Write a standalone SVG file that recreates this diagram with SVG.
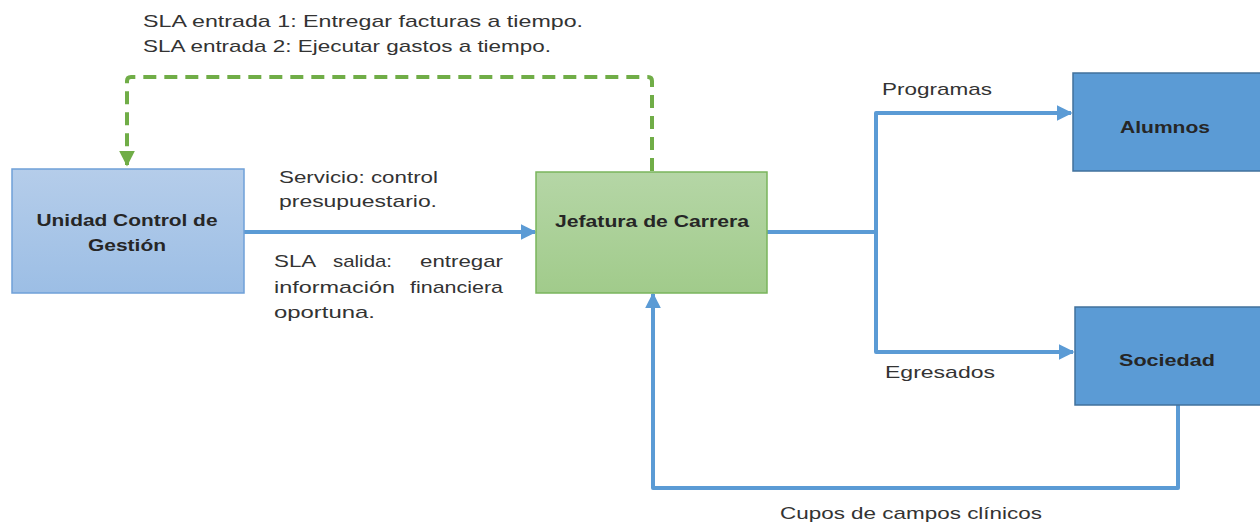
<svg xmlns="http://www.w3.org/2000/svg" width="1260" height="527" viewBox="0 0 1260 527">
<style>
.t{font-family:"Liberation Sans",Arial,sans-serif;font-size:17px;fill:#333333}
.n{font-family:"Liberation Sans",Arial,sans-serif;font-size:17px;font-weight:bold;fill:#262626;text-anchor:middle}
.b{fill:none;stroke:#5b9bd5;stroke-width:4;stroke-linejoin:round}
.g{fill:none;stroke:#70ad47;stroke-width:4;stroke-dasharray:13 8;stroke-linejoin:round}
</style>
<defs>
<linearGradient id="gb" x1="0" y1="0" x2="0" y2="1"><stop offset="0" stop-color="#b5cdea"/><stop offset="1" stop-color="#9cbee5"/></linearGradient>
<linearGradient id="gg" x1="0" y1="0" x2="0" y2="1"><stop offset="0" stop-color="#b5d6a6"/><stop offset="1" stop-color="#a1cb8b"/></linearGradient>
<marker id="ab" markerWidth="4" markerHeight="4" refX="3.6" refY="2" orient="auto" markerUnits="strokeWidth"><path d="M0,0 L4,2 L0,4 z" fill="#5b9bd5"/></marker>
<marker id="ag" markerWidth="4" markerHeight="4" refX="3.6" refY="2" orient="auto" markerUnits="strokeWidth"><path d="M0,0 L4,2 L0,4 z" fill="#70ad47"/></marker>
</defs>
<g id="connectors">
<path class="g" d="M652,171 V81 Q652,77 648,77 H131 Q127,77 127,81 V165" marker-end="url(#ag)"/>
<line class="b" x1="244" y1="232" x2="535" y2="232" marker-end="url(#ab)"/>
<path class="b" d="M767,232 H876"/>
<path class="b" d="M1071,113 H876 V352 H1073"/>
<line class="b" x1="1040" y1="113" x2="1071" y2="113" marker-end="url(#ab)"/>
<line class="b" x1="1040" y1="352" x2="1073" y2="352" marker-end="url(#ab)"/>
<path class="b" d="M1178,405 V488 H653 V294" marker-end="url(#ab)"/>
</g>
<g id="unidad">
<rect x="12" y="169" width="232" height="124" fill="url(#gb)" stroke="#6fa0d8" stroke-width="1.5"/>
<text class="n" x="127" y="226" textLength="181" lengthAdjust="spacingAndGlyphs">Unidad Control de</text>
<text class="n" x="127" y="251" textLength="78" lengthAdjust="spacingAndGlyphs">Gestión</text>
</g>
<g id="jefatura">
<rect x="536" y="172" width="231" height="121" fill="url(#gg)" stroke="#7ab55c" stroke-width="1.5"/>
<text class="n" x="652" y="227" textLength="194" lengthAdjust="spacingAndGlyphs">Jefatura de Carrera</text>
</g>
<g id="alumnos">
<rect x="1073" y="73" width="192" height="98" fill="#5b9bd5" stroke="#41719c" stroke-width="1.5"/>
<text class="n" x="1165" y="133" textLength="90" lengthAdjust="spacingAndGlyphs">Alumnos</text>
</g>
<g id="sociedad">
<rect x="1075" y="307" width="190" height="98" fill="#5b9bd5" stroke="#41719c" stroke-width="1.5"/>
<text class="n" x="1167" y="366" textLength="96" lengthAdjust="spacingAndGlyphs">Sociedad</text>
</g>
<g id="labels">
<text class="t" x="143" y="27" textLength="440" lengthAdjust="spacingAndGlyphs">SLA entrada 1: Entregar facturas a tiempo.</text>
<text class="t" x="143" y="52" textLength="408" lengthAdjust="spacingAndGlyphs">SLA entrada 2: Ejecutar gastos a tiempo.</text>
<text class="t" x="279" y="183" textLength="159" lengthAdjust="spacingAndGlyphs">Servicio: control</text>
<text class="t" x="279" y="207" textLength="158" lengthAdjust="spacingAndGlyphs">presupuestario.</text>
<text class="t" y="267"><tspan x="274" textLength="41" lengthAdjust="spacingAndGlyphs">SLA</tspan> <tspan x="333" textLength="59" lengthAdjust="spacingAndGlyphs">salida:</tspan> <tspan x="420" textLength="83" lengthAdjust="spacingAndGlyphs">entregar</tspan></text>
<text class="t" y="293"><tspan x="274" textLength="121" lengthAdjust="spacingAndGlyphs">información</tspan> <tspan x="410" textLength="93" lengthAdjust="spacingAndGlyphs">financiera</tspan></text>
<text class="t" x="274" y="318" textLength="101" lengthAdjust="spacingAndGlyphs">oportuna.</text>
<text class="t" x="882" y="95" textLength="110" lengthAdjust="spacingAndGlyphs">Programas</text>
<text class="t" x="885" y="378" textLength="110" lengthAdjust="spacingAndGlyphs">Egresados</text>
<text class="t" x="780" y="519" textLength="262" lengthAdjust="spacingAndGlyphs">Cupos de campos clínicos</text>
</g>
</svg>
